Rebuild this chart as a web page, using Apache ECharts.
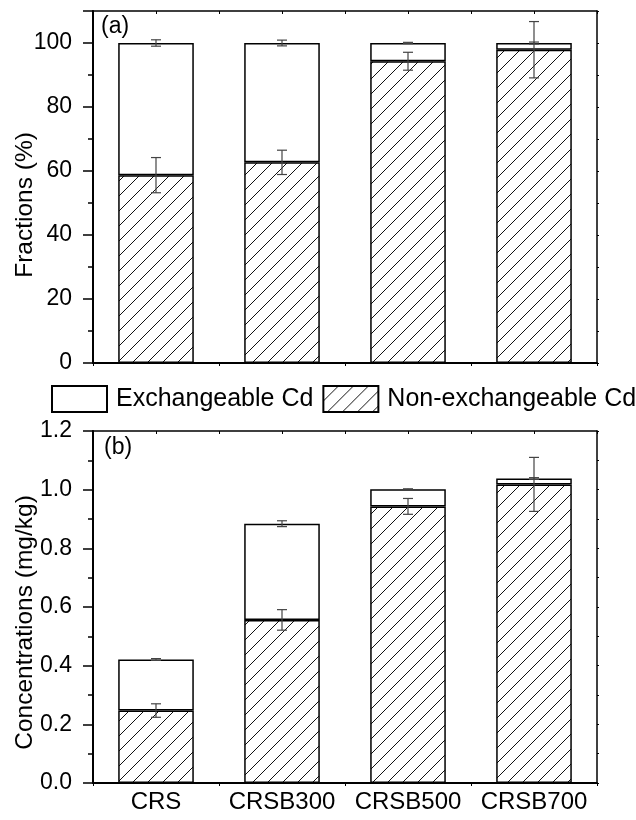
<!DOCTYPE html>
<html>
<head>
<meta charset="utf-8">
<script src="https://cdn.jsdelivr.net/npm/echarts@6/dist/echarts.min.js"></script>
<style>
html,body{margin:0;padding:0;background:#fff}
#main{width:636px;height:820px}
</style>
</head>
<body>
<div id="main"></div>
<script>
const categories = ['CRS', 'CRSB300', 'CRSB500', 'CRSB700'];

// (a) fractions, %
const fracTotal = [100, 100, 100, 100];
const fracNonEx = [58.7, 62.7, 94.3, 97.9];
const fracTotalErr = [1.0, 0.9, 0.2, 0.3];
const fracNonExErr = [5.5, 3.8, 2.8, 8.8];

// (b) concentrations, mg/kg
const concTotal = [0.421, 0.884, 1.001, 1.038];
const concNonEx = [0.247, 0.556, 0.943, 1.018];
const concTotalErr = [0.003, 0.010, 0.002, 0.003];
const concNonExErr = [0.023, 0.035, 0.027, 0.092];

const FONT = '"Liberation Sans", Arial, sans-serif';

// hatch pattern "////"
const hatch = document.createElement('canvas');
hatch.width = 15; hatch.height = 15;
const g = hatch.getContext('2d');
g.strokeStyle = '#111';
g.lineWidth = 1;
g.beginPath();
g.moveTo(-2, 17); g.lineTo(17, -2);
g.moveTo(-2, 2); g.lineTo(2, -2);
g.moveTo(13, 17); g.lineTo(17, 13);
g.stroke();

function errRender(params, api) {
  const i = api.value(0), v = api.value(1), e = api.value(2);
  const hi = api.coord([i, v + e]);
  const lo = api.coord([i, v - e]);
  const w = 5;
  const style = { stroke: '#444', lineWidth: 1.2 };
  return {
    type: 'group',
    children: [
      { type: 'line', shape: { x1: hi[0], y1: hi[1], x2: lo[0], y2: lo[1] }, style },
      { type: 'line', shape: { x1: hi[0] - w, y1: hi[1], x2: hi[0] + w, y2: hi[1] }, style },
      { type: 'line', shape: { x1: lo[0] - w, y1: lo[1], x2: lo[0] + w, y2: lo[1] }, style }
    ]
  };
}

function errData(vals, errs) {
  return vals.map((v, i) => [i, v, errs[i]]);
}

function bottomX(grid, showLabels) {
  return {
    type: 'category', gridIndex: grid, position: 'bottom', data: categories,
    axisLine: { lineStyle: { color: '#000', width: 2 } },
    axisTick: { show: true, length: 3, lineStyle: { color: '#000', width: 1 } },
    axisLabel: {
      show: showLabels, interval: 0, color: '#000', fontSize: 24, fontFamily: FONT, margin: 7
    },
    splitLine: { show: false }
  };
}

function topX(grid) {
  return {
    type: 'value', gridIndex: grid, position: 'top', min: 0, max: 4, interval: 0.5,
    axisLine: { show: true, onZero: false, lineStyle: { color: '#000', width: 1.5 } },
    axisTick: { show: true, inside: true, length: 3, lineStyle: { color: '#000', width: 1 } },
    axisLabel: { show: false },
    splitLine: { show: false }
  };
}

function leftY(grid, max, interval, name, showMax, shift, fmt) {
  return {
    type: 'value', gridIndex: grid, position: 'left', min: 0, max: max, interval: interval,
    name: name, nameLocation: 'middle', nameGap: 55, nameMoveOverlap: false,
    nameTextStyle: { color: '#000', fontSize: 24.5, fontFamily: FONT, padding: [0, shift, 0, 0] },
    axisLine: { show: true, lineStyle: { color: '#000', width: 2 } },
    axisTick: { show: true, length: 10, lineStyle: { color: '#000', width: 1.5 } },
    minorTick: { show: true, splitNumber: 2, length: 5, lineStyle: { color: '#000', width: 1.5 } },
    axisLabel: {
      color: '#000', fontSize: 23, fontFamily: FONT, margin: 21,
      showMaxLabel: showMax, formatter: fmt
    },
    splitLine: { show: false },
    minorSplitLine: { show: false }
  };
}

function rightY(grid, max, interval) {
  return {
    type: 'value', gridIndex: grid, position: 'right', min: 0, max: max, interval: interval,
    axisLine: { show: true, lineStyle: { color: '#000', width: 1.5 } },
    axisTick: { show: true, length: 2, lineStyle: { color: '#000', width: 1 } },
    minorTick: { show: true, splitNumber: 2, length: 2, lineStyle: { color: '#000', width: 1 } },
    axisLabel: { show: false },
    splitLine: { show: false }
  };
}

function barPair(grid, nonEx, total) {
  const ex = total.map((t, i) => +(t - nonEx[i]).toFixed(4));
  return [
    {
      name: 'Non-exchangeable Cd', type: 'bar', xAxisIndex: grid * 2, yAxisIndex: grid * 2,
      stack: 's' + grid, barWidth: '60%', data: nonEx,
      itemStyle: { color: { image: hatch, repeat: 'repeat' }, borderColor: '#000', borderWidth: 1.5 }
    },
    {
      name: 'Exchangeable Cd', type: 'bar', xAxisIndex: grid * 2, yAxisIndex: grid * 2,
      stack: 's' + grid, barWidth: '60%', data: ex,
      itemStyle: { color: '#fff', borderColor: '#000', borderWidth: 1.5 }
    }
  ];
}

function errSeries(grid, vals, errs) {
  return {
    type: 'custom', xAxisIndex: grid * 2, yAxisIndex: grid * 2, z: 5,
    renderItem: errRender, encode: { x: 0, y: 1 },
    data: errData(vals, errs), silent: true
  };
}

const option = {
  animation: false,
  backgroundColor: '#fff',
  textStyle: { fontFamily: FONT },
  legend: {
    left: 51, top: 385, width: 600, padding: 0,
    itemWidth: 55, itemHeight: 26, itemGap: 9,
    icon: 'rect',
    data: ['Exchangeable Cd', 'Non-exchangeable Cd'],
    textStyle: { color: '#000', fontSize: 25, fontFamily: FONT, padding: [0, 0, 0, 4] }
  },
  grid: [
    { left: 93, top: 11, width: 504, height: 352, outerBoundsMode: 'none' },
    { left: 93, top: 431, width: 504, height: 352, outerBoundsMode: 'none' }
  ],
  xAxis: [bottomX(0, false), topX(0), bottomX(1, true), topX(1)],
  yAxis: [
    leftY(0, 110, 20, 'Fractions (%)', false, 36, v => String(v)),
    rightY(0, 110, 20),
    leftY(1, 1.2, 0.2, 'Concentrations (mg/kg)', true, 31, v => v.toFixed(1)),
    rightY(1, 1.2, 0.2)
  ],
  graphic: [
    { type: 'text', left: 101, top: 15, style: { text: '(a)', font: '23px ' + FONT, fill: '#000' } },
    { type: 'text', left: 104, top: 436, style: { text: '(b)', font: '23px ' + FONT, fill: '#000' } }
  ],
  series: [
    ...barPair(0, fracNonEx, fracTotal),
    errSeries(0, fracTotal, fracTotalErr),
    errSeries(0, fracNonEx, fracNonExErr),
    ...barPair(1, concNonEx, concTotal),
    errSeries(1, concTotal, concTotalErr),
    errSeries(1, concNonEx, concNonExErr)
  ]
};

const chart = echarts.init(document.getElementById('main'));
chart.setOption(option);
</script>
</body>
</html>
